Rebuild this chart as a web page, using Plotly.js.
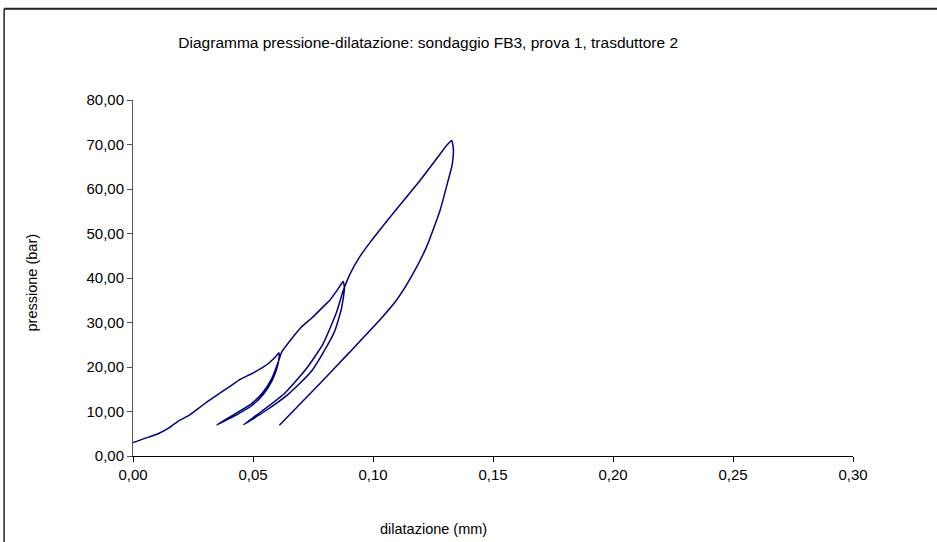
<!DOCTYPE html>
<html>
<head>
<meta charset="utf-8">
<script src="https://cdn.plot.ly/plotly-3.0.1.min.js"></script>
<style>html,body{margin:0;padding:0;background:#fff;}#chart{width:937px;height:542px;}</style>
</head>
<body>
<div id="chart"></div>
<script>
// dilatazione (mm)
const dilatazione = [
  0.000, 0.004, 0.0105, 0.015, 0.019, 0.023, 0.027, 0.031, 0.035, 0.0395, 0.044, 0.0505, 0.0557, 0.0592, 0.0608,
  0.0609, 0.0601, 0.0580, 0.0545, 0.0497, 0.043, 0.0349,
  0.042, 0.049, 0.054, 0.0578, 0.0603, 0.0620, 0.066, 0.070, 0.0745, 0.079, 0.082, 0.0855, 0.0876,
  0.0881, 0.0868, 0.0840, 0.0807, 0.0740, 0.0645, 0.0548, 0.046,
  0.0535, 0.063, 0.0722, 0.0792, 0.0848, 0.0876, 0.0905, 0.0945, 0.0988, 0.1085, 0.1196, 0.1265, 0.1310, 0.1328,
  0.1335, 0.1330, 0.1314, 0.128, 0.1224, 0.1168, 0.1099, 0.1029, 0.0904, 0.0779, 0.061
];
// pressione (bar)
const pressione = [
  3.0, 3.8, 5.0, 6.3, 7.9, 9.0, 10.6, 12.2, 13.7, 15.3, 17.0, 18.8, 20.5, 22.2, 23.2,
  22.3, 20.0, 17.0, 14.0, 11.4, 9.2, 7.0,
  9.3, 11.6, 14.2, 17.4, 20.8, 23.4, 26.3, 28.9, 31.0, 33.4, 35.0, 37.6, 39.2,
  37.6, 33.0, 28.0, 24.6, 18.8, 13.8, 10.0, 7.0,
  10.0, 14.0, 19.6, 25.2, 32.3, 37.2, 41.0, 44.8, 48.0, 54.6, 61.9, 66.8, 70.0, 70.9,
  68.9, 65.5, 62.1, 55.3, 47.1, 41.1, 35.1, 30.6, 23.4, 16.3, 6.9
];
const xTicks = [0, 0.05, 0.10, 0.15, 0.20, 0.25, 0.30];
const yTicks = [0, 10, 20, 30, 40, 50, 60, 70, 80];
const titleText = 'Diagramma pressione-dilatazione: sondaggio FB3, prova 1, trasduttore 2';
const xTitle = 'dilatazione (mm)';
const yTitle = 'pressione (bar)';

const fam = 'Liberation Sans, Arial, sans-serif';
const tickFont = {family: fam, size: 15, color: '#000'};
const textFont = {family: fam, size: 14.5, color: '#000'};
const titleFont = {family: fam, size: 15.5, color: '#000'};

const trace = {
  x: dilatazione, y: pressione, type: 'scatter', mode: 'lines',
  line: {color: '#000080', width: 1.5, shape: 'spline', smoothing: 0.5},
  hoverinfo: 'x+y'
};

const layout = {
  width: 937, height: 542,
  margin: {l: 133, r: 84, t: 100, b: 86},
  paper_bgcolor: '#fff', plot_bgcolor: '#fff',
  font: textFont,
  separators: ',.',
  showlegend: false,
  title: {text: titleText, font: titleFont, x: 0.457, xanchor: 'center', xref: 'container',
          y: 0.922, yanchor: 'middle', yref: 'container'},
  xaxis: {
    range: [0, 0.3], tickvals: xTicks, tickformat: '.2f',
    showgrid: false, zeroline: false, showline: true, linecolor: '#000', linewidth: 1,
    ticks: 'outside', ticklen: 5, tickcolor: '#000', tickfont: tickFont
  },
  yaxis: {
    range: [0, 80], tickvals: yTicks, tickformat: '.2f',
    showgrid: false, zeroline: false, showline: true, linecolor: '#555', linewidth: 1,
    ticks: 'outside', ticklen: 5, tickcolor: '#555', tickfont: tickFont
  },
  annotations: [
    {text: xTitle, xref: 'paper', yref: 'paper', x: 0.4167, y: -0.206,
     xanchor: 'center', yanchor: 'middle', showarrow: false, font: textFont},
    {text: yTitle, xref: 'paper', yref: 'paper', x: -0.140, y: 0.488, textangle: -90,
     xanchor: 'center', yanchor: 'middle', showarrow: false, font: textFont}
  ],
  shapes: [
    {type: 'line', xref: 'paper', yref: 'paper', x0: -0.179, x1: 1.2, y0: 1.256, y1: 1.256,
     line: {color: '#222', width: 2}},
    {type: 'line', xref: 'paper', yref: 'paper', x0: -0.179, x1: -0.179, y0: 1.256, y1: -0.3,
     line: {color: '#222', width: 1.5}}
  ]
};

Plotly.newPlot('chart', [trace], layout, {displayModeBar: false, staticPlot: true});
</script>
</body>
</html>
